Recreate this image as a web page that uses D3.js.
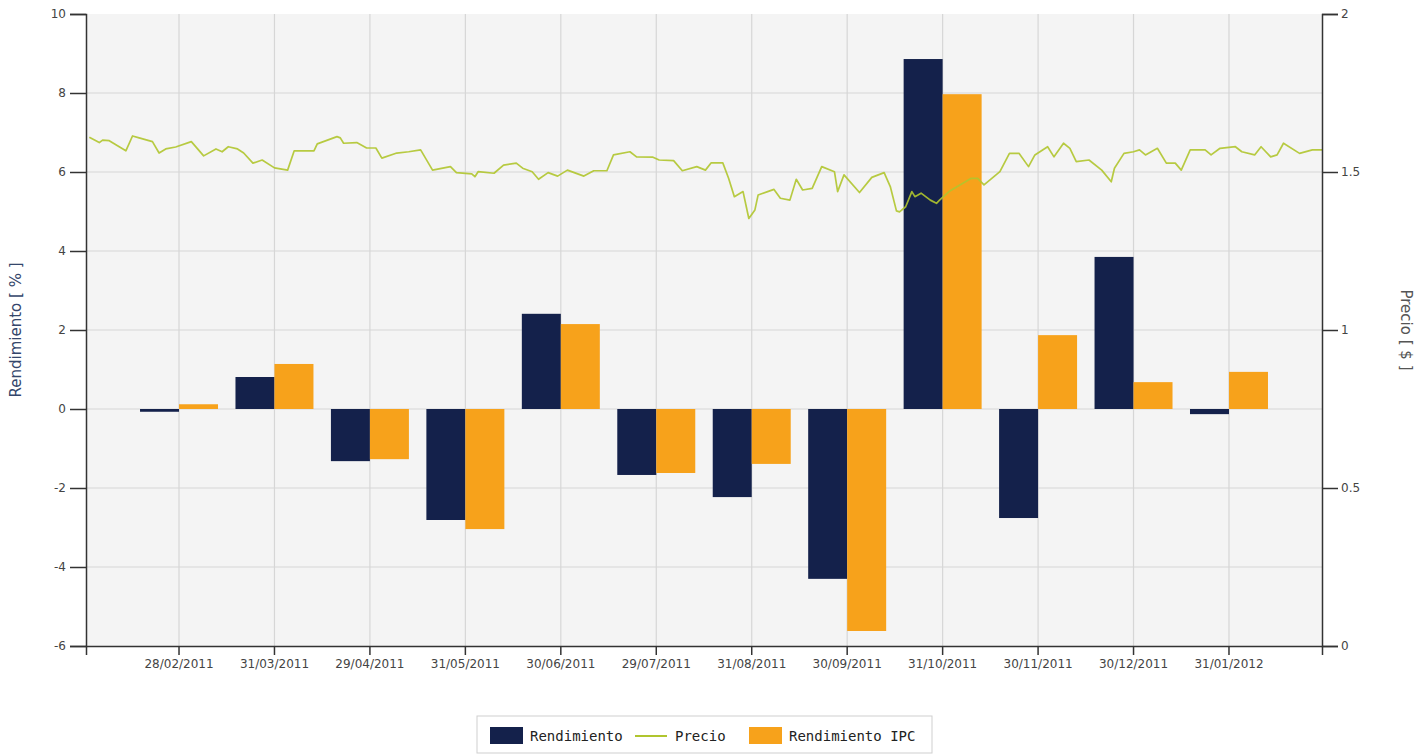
<!DOCTYPE html>
<html>
  <head>
    <meta charset="utf-8">
    <title>Rendimiento y Precio</title>
    <script src="https://d3js.org/d3.v7.min.js"></script>
    <style>
      body { margin: 0; background: #fff; }
    </style>
  </head>
  <body>
    <svg width="1428" height="754" id="mainsvg"></svg>
    <script>
        // monthly categories (x axis)
        const categories = ['28/02/2011', '31/03/2011', '29/04/2011', '31/05/2011', '30/06/2011', '29/07/2011',
                            '31/08/2011', '30/09/2011', '31/10/2011', '30/11/2011', '30/12/2011', '31/01/2012'];
        const rendimiento    = [-0.07, 0.81, -1.32, -2.81, 2.41, -1.67, -2.23, -4.30, 8.86, -2.76, 3.85, -0.13];
        const rendimientoIPC = [ 0.12, 1.14, -1.27, -3.04, 2.15, -1.62, -1.39, -5.62, 7.97,  1.87, 0.68,  0.94];

        const leftTicks = [-6, -4, -2, 0, 2, 4, 6, 8, 10];
        const rightTicks = [0, 0.5, 1, 1.5, 2];
        const rangeStart = '31/01/2011';
        const rangeEnd = '29/02/2012';

        // daily price (right axis)
        const priceDates = [
          '2011-02-01','2011-02-04','2011-02-05','2011-02-07','2011-02-12','2011-02-14','2011-02-16','2011-02-20','2011-02-22','2011-02-24','2011-02-27',
          '2011-03-04','2011-03-08','2011-03-12','2011-03-14','2011-03-16','2011-03-19','2011-03-21','2011-03-24','2011-03-27','2011-03-31',
          '2011-04-04','2011-04-06','2011-04-12','2011-04-13','2011-04-19','2011-04-20','2011-04-21','2011-04-25','2011-04-28',
          '2011-05-01','2011-05-03','2011-05-08','2011-05-12','2011-05-16','2011-05-20','2011-05-26','2011-05-28',
          '2011-06-02','2011-06-03','2011-06-04','2011-06-09','2011-06-12','2011-06-16','2011-06-18','2011-06-21','2011-06-23','2011-06-26','2011-06-29',
          '2011-07-02','2011-07-07','2011-07-10','2011-07-14','2011-07-16','2011-07-21','2011-07-23','2011-07-28','2011-07-30',
          '2011-08-04','2011-08-07','2011-08-12','2011-08-15','2011-08-17','2011-08-21','2011-08-23','2011-08-25','2011-08-28','2011-08-30',
          '2011-09-01','2011-09-02','2011-09-05','2011-09-07','2011-09-09','2011-09-12','2011-09-14','2011-09-16','2011-09-19','2011-09-22','2011-09-26','2011-09-27','2011-09-29',
          '2011-10-04','2011-10-08','2011-10-12','2011-10-14','2011-10-16','2011-10-17','2011-10-19','2011-10-21','2011-10-22','2011-10-24','2011-10-27','2011-10-29','2011-10-30',
          '2011-11-02','2011-11-09','2011-11-11','2011-11-13','2011-11-18','2011-11-21','2011-11-24','2011-11-27','2011-11-29',
          '2011-12-03','2011-12-05','2011-12-08','2011-12-10','2011-12-12','2011-12-16','2011-12-20','2011-12-23','2011-12-24','2011-12-27','2011-12-30',
          '2012-01-01','2012-01-03','2012-01-07','2012-01-10','2012-01-13','2012-01-15','2012-01-18','2012-01-23','2012-01-25','2012-01-28',
          '2012-02-02','2012-02-04','2012-02-08','2012-02-10','2012-02-13','2012-02-15','2012-02-17','2012-02-22','2012-02-26','2012-02-29'];
        const priceValues = [
          1.610,1.593,1.601,1.599,1.567,1.614,1.608,1.596,1.560,1.573,1.579,
          1.596,1.551,1.573,1.564,1.580,1.573,1.560,1.528,1.538,1.513,
          1.506,1.567,1.567,1.589,1.612,1.608,1.591,1.593,1.576,
          1.576,1.544,1.560,1.564,1.570,1.506,1.517,1.498,
          1.494,1.485,1.501,1.496,1.522,1.528,1.512,1.501,1.477,1.498,1.487,
          1.506,1.487,1.504,1.504,1.554,1.564,1.548,1.547,1.538,
          1.536,1.504,1.517,1.506,1.529,1.529,1.480,1.422,1.438,1.353,
          1.380,1.427,1.438,1.445,1.417,1.411,1.477,1.443,1.448,1.517,1.501,1.438,1.491,
          1.435,1.483,1.498,1.454,1.377,1.374,1.390,1.438,1.422,1.433,1.411,1.401,1.411,
          1.438,1.480,1.480,1.459,1.501,1.559,1.559,1.517,1.554,
          1.580,1.548,1.591,1.575,1.533,1.538,1.506,1.469,1.512,1.559,1.564,
          1.570,1.554,1.575,1.528,1.528,1.506,1.570,1.570,1.554,1.575,
          1.580,1.564,1.554,1.580,1.548,1.554,1.591,1.559,1.570,1.570];

        const seriesNames = ['Rendimiento', 'Precio', 'Rendimiento IPC'];
        const colors = {rend: '#14214b', ipc: '#f7a21b', price: '#b0c52e'};

        const svg = d3.select('#mainsvg');
        const width = +svg.attr('width');
        const height = +svg.attr('height');
        const margin = {top: 14, right: 106, bottom: 108, left: 86};
        const innerWidth = width - margin.left - margin.right;
        const innerHeight = height - margin.top - margin.bottom;

        const parseCat = d3.timeParse('%d/%m/%Y');
        const parseDay = d3.timeParse('%Y-%m-%d');

        const xScale = d3.scaleBand()
          .domain(categories)
          .range([0, innerWidth])
          .paddingInner(0.183)
          .paddingOuter(0.566);

        const xSub = d3.scaleBand()
          .domain(['rend', 'ipc'])
          .range([0, xScale.bandwidth()]);

        const yScale = d3.scaleLinear().domain([-6, 10]).range([innerHeight, 0]);
        const yRight = d3.scaleLinear().domain([0, 2]).range([innerHeight, 0]);

        // time scale pinned to the month ticks so the price line lines up with them
        const centers = categories.map(c => xScale(c) + xScale.bandwidth() / 2);
        const tScale = d3.scaleTime()
          .domain([parseCat(rangeStart), ...categories.map(parseCat), parseCat(rangeEnd)])
          .range([0, ...centers, innerWidth]);

        const g = svg.append('g').attr('id', 'maingroup')
          .attr('transform', `translate(${margin.left}, ${margin.top})`);

        g.append('rect').attr('width', innerWidth).attr('height', innerHeight).attr('fill', '#f4f4f4');

        // grid
        g.append('g').selectAll('line').data(leftTicks.filter(d => d > -6 && d < 10)).join('line')
          .attr('x1', 0).attr('x2', innerWidth)
          .attr('y1', d => yScale(d)).attr('y2', d => yScale(d))
          .attr('stroke', '#d6d6d6').attr('stroke-width', 1.2);
        g.append('g').selectAll('line').data(categories).join('line')
          .attr('x1', d => xScale(d) + xScale.bandwidth() / 2).attr('x2', d => xScale(d) + xScale.bandwidth() / 2)
          .attr('y1', 0).attr('y2', innerHeight)
          .attr('stroke', '#d6d6d6').attr('stroke-width', 1.2);

        // bars
        const barData = [];
        categories.forEach((c, i) => {
          barData.push({cat: c, key: 'rend', value: rendimiento[i]});
          barData.push({cat: c, key: 'ipc', value: rendimientoIPC[i]});
        });
        g.append('g').selectAll('rect').data(barData).join('rect')
          .attr('x', d => xScale(d.cat) + xSub(d.key))
          .attr('width', xSub.bandwidth())
          .attr('y', d => yScale(Math.max(0, d.value)))
          .attr('height', d => Math.abs(yScale(d.value) - yScale(0)))
          .attr('fill', d => colors[d.key]);

        // price line
        const priceData = priceDates.map((d, i) => ({date: parseDay(d), value: priceValues[i]}));
        const line = d3.line().x(d => tScale(d.date)).y(d => yRight(d.value));
        g.append('path').datum(priceData)
          .attr('d', line)
          .attr('fill', 'none')
          .attr('stroke', colors.price)
          .attr('stroke-width', 1.7)
          .attr('stroke-linejoin', 'round')
          .attr('opacity', 0.9);

        // axes
        const xAxis = d3.axisBottom(xScale).tickSizeInner(9).tickSizeOuter(9).tickPadding(4);
        const xg = g.append('g').call(xAxis).attr('transform', `translate(0, ${innerHeight})`);

        const yAxis = d3.axisLeft(yScale).tickValues(leftTicks).tickFormat(d => String(d))
          .tickSize(16).tickPadding(4);
        const yg = g.append('g').call(yAxis);

        const yAxisR = d3.axisRight(yRight).tickValues(rightTicks).tickFormat(d => String(d))
          .tickSize(16).tickPadding(3);
        const yrg = g.append('g').call(yAxisR).attr('transform', `translate(${innerWidth}, 0)`);

        [xg, yg, yrg].forEach(a => {
          a.select('.domain').attr('stroke', '#333').attr('stroke-width', 1.5);
          a.selectAll('.tick line').attr('stroke', '#333').attr('stroke-width', 1.5);
          a.selectAll('.tick text').attr('fill', '#444')
            .attr('font-family', 'DejaVu Sans, sans-serif').attr('font-size', '12px');
        });

        // axis titles
        svg.append('text').text('Rendimiento [ % ]')
          .attr('transform', `translate(21, ${margin.top + yScale(2)}) rotate(-90)`)
          .attr('text-anchor', 'middle')
          .attr('font-family', 'DejaVu Sans, sans-serif').attr('font-size', '15px')
          .attr('fill', '#34466b');
        svg.append('text').text('Precio [ $ ]')
          .attr('transform', `translate(1401, ${margin.top + yScale(2)}) rotate(90)`)
          .attr('text-anchor', 'middle')
          .attr('font-family', 'DejaVu Sans, sans-serif').attr('font-size', '15px')
          .attr('fill', '#555');

        // legend (box runs to the bottom edge, as in the original)
        const legend = svg.append('g').attr('transform', 'translate(477, 716)');
        legend.append('rect').attr('width', 455).attr('height', 37)
          .attr('fill', '#fff').attr('stroke', '#cfcfcf');
        const items = [
          {name: seriesNames[0], type: 'rect', color: colors.rend, x: 13, tx: 53},
          {name: seriesNames[1], type: 'line', color: colors.price, x: 158, tx: 198},
          {name: seriesNames[2], type: 'rect', color: colors.ipc, x: 272, tx: 312}
        ];
        items.forEach(it => {
          if (it.type === 'rect') {
            legend.append('rect').attr('x', it.x).attr('y', 11).attr('width', 33).attr('height', 17).attr('fill', it.color);
          } else {
            legend.append('line').attr('x1', it.x).attr('x2', it.x + 32).attr('y1', 20).attr('y2', 20)
              .attr('stroke', it.color).attr('stroke-width', 2);
          }
          legend.append('text').text(it.name).attr('x', it.tx).attr('y', 20).attr('dy', '0.35em')
            .attr('font-family', 'DejaVu Sans Mono, monospace').attr('font-size', '14px').attr('fill', '#222');
        });
    </script>
  </body>
</html>
